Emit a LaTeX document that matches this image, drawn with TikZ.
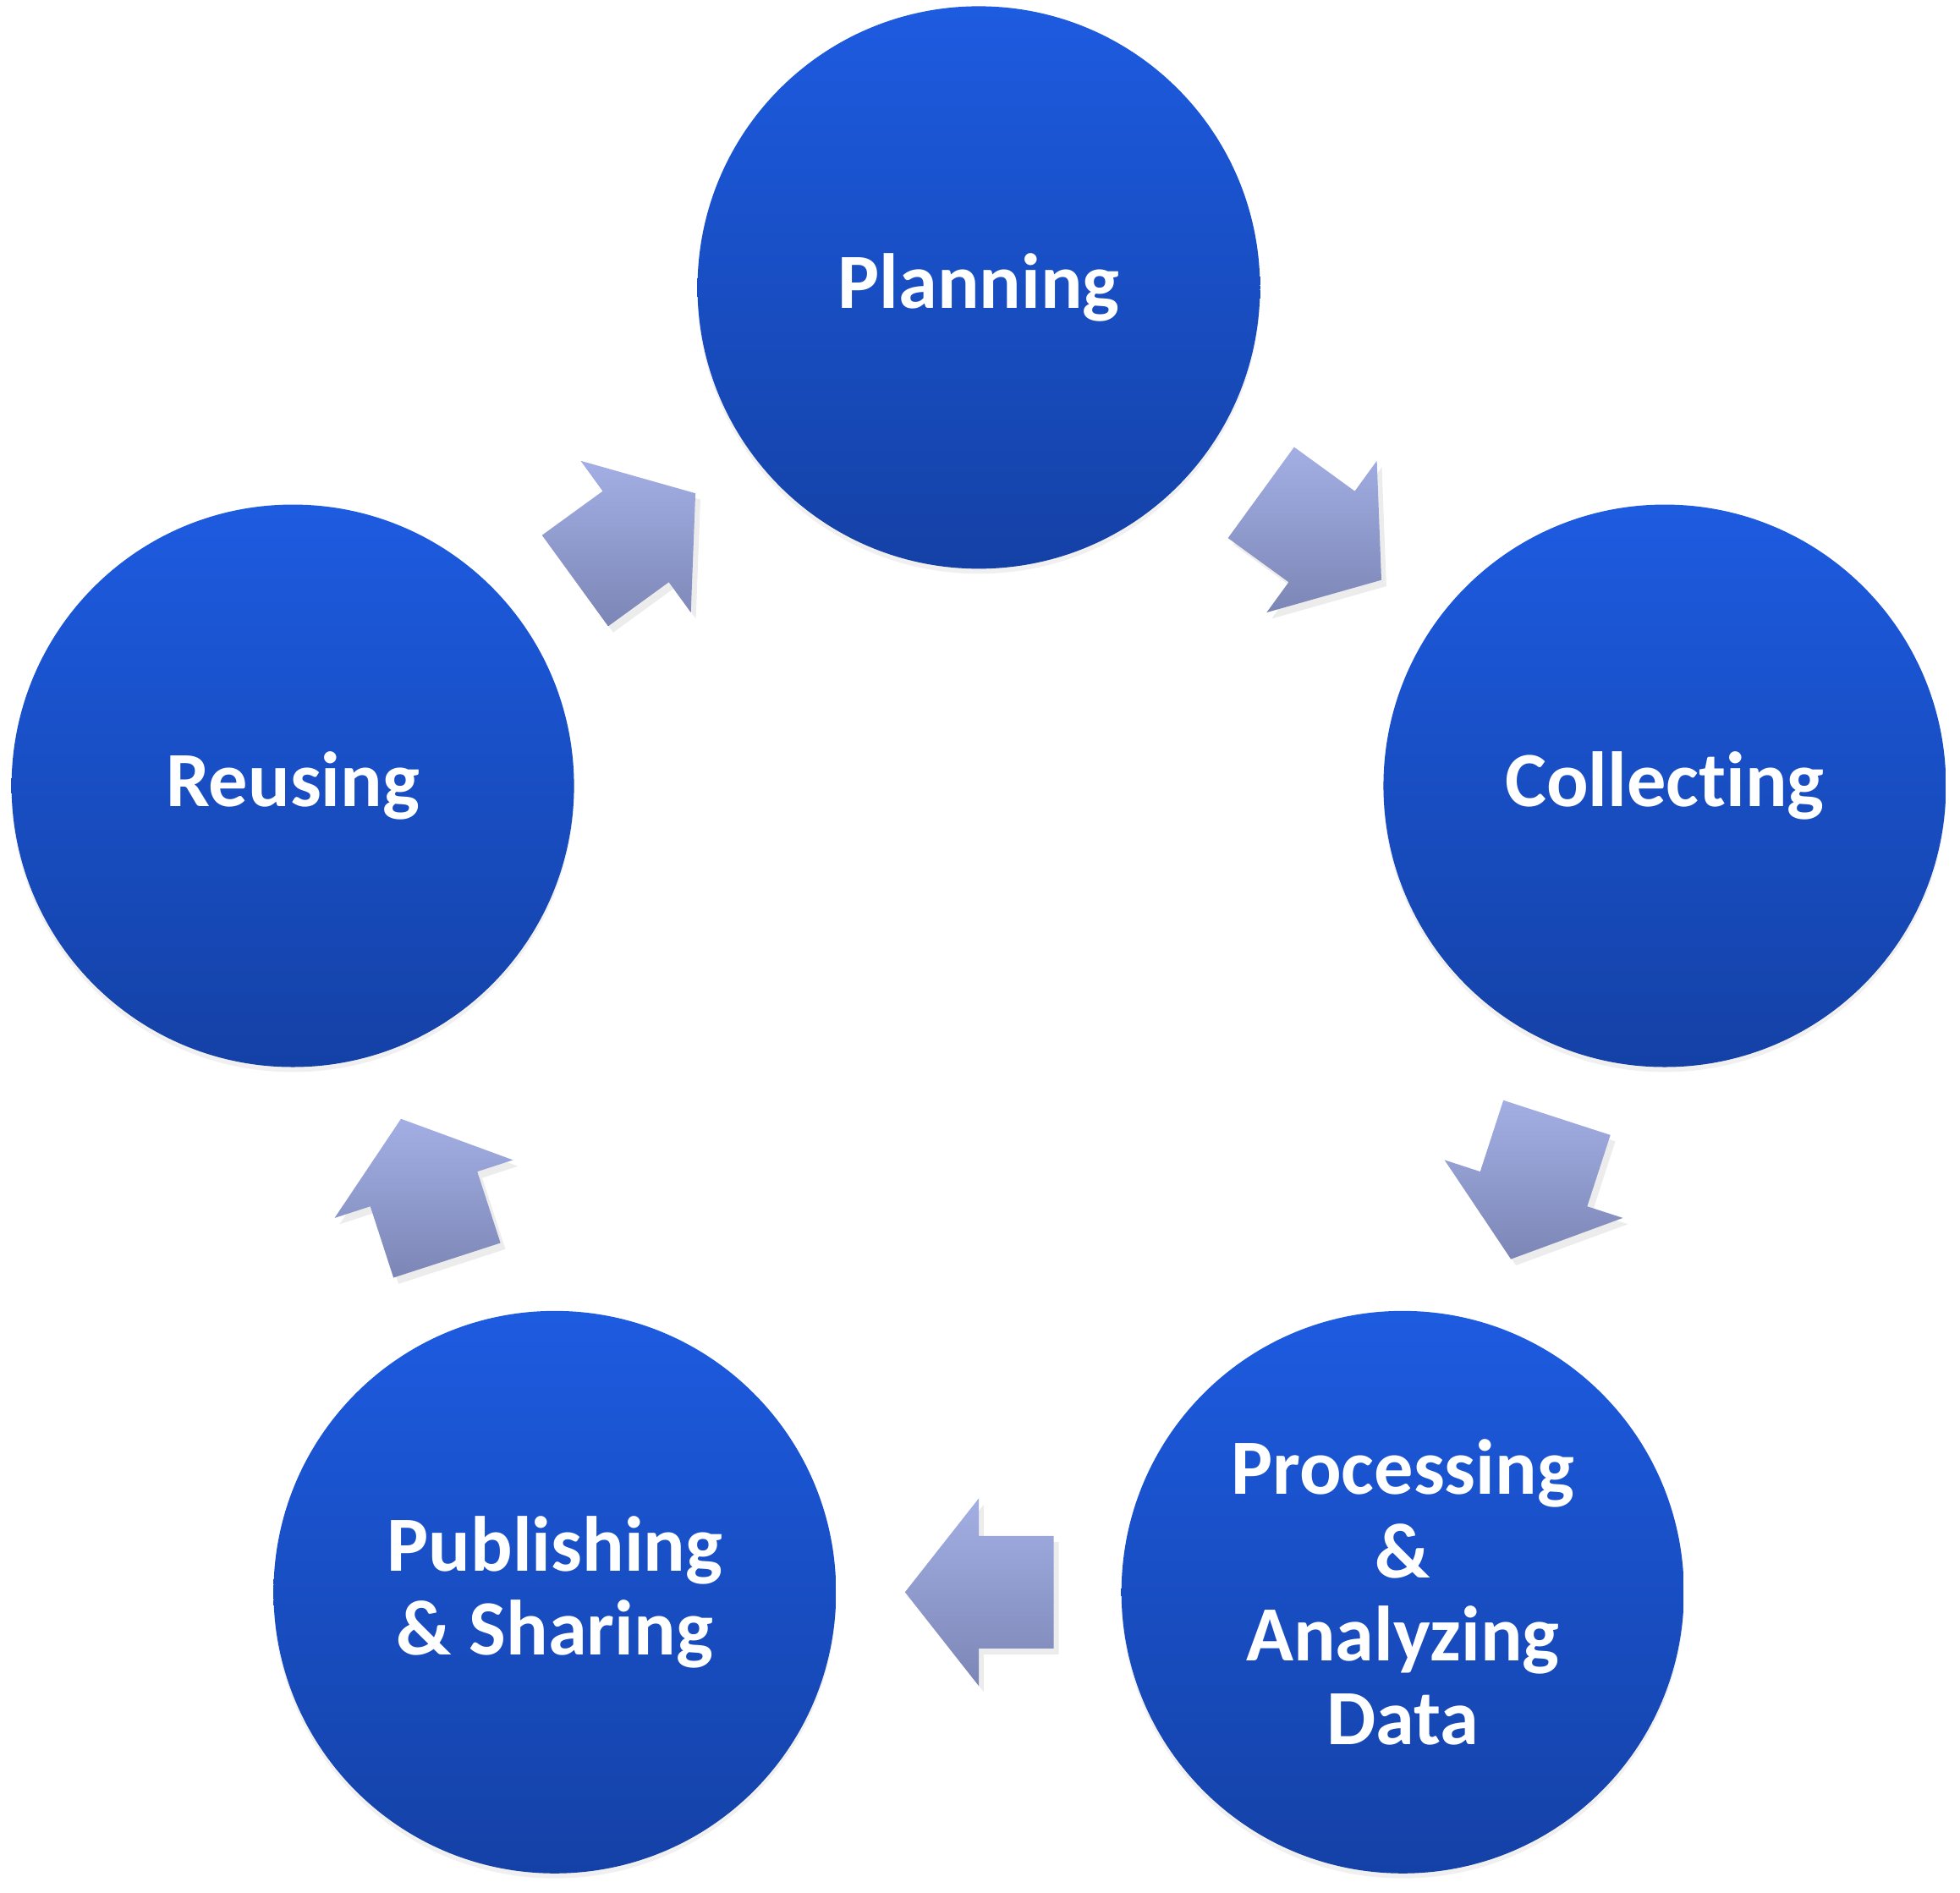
\documentclass[tikz,border=0pt]{standalone}
\usepackage{fontspec}
\setmainfont{Carlito}[Ligatures={NoCommon,NoRare}]
\usepackage{tikz}
\usetikzlibrary{calc,shadows}

\definecolor{stagetop}{HTML}{1D5BE0}
\definecolor{stagebot}{HTML}{1441A6}
\definecolor{flowtop}{HTML}{A3AFE4}
\definecolor{flowbot}{HTML}{7C86B6}

\begin{document}
\begin{tikzpicture}[stage/.style={circle, minimum size=4.5cm, inner sep=0pt, top color=stagetop, bottom color=stagebot, text=white, align=center, font=\fontsize{17.8}{19}\selectfont\bfseries, drop shadow={shadow xshift=0cm, shadow yshift=-0.04cm, opacity=0.12}},
	flow/.style={top color=flowtop, bottom color=flowbot, drop shadow={shadow xshift=0.04cm, shadow yshift=-0.05cm, opacity=0.15}}]
	\useasboundingbox (-7.83,-7.07) rectangle (7.85,8.07);

	\node[stage] (P) at (90:5.77)   {Planning};
	\node[stage] (C) at (18:5.77)   {Collecting};
	\node[stage] (A) at (-54:5.77)  {Processing\\\&\\Analyzing\\Data};
	\node[stage] (S) at (-126:5.77) {Publishing\\\& Sharing};
	\node[stage] (R) at (162:5.77)  {Reusing};

	% block arrows half way between the stages
	\foreach \src/\dst in {P/C, C/A, A/S, S/R, R/P}{
		\coordinate (m) at ($(\src)!0.5!(\dst)$);
		\coordinate (b) at ($(m)!0.60cm!(\src)$);
		\coordinate (tip) at ($(m)!0.59cm!(\dst)$);
		\path[flow] ($(b)!0.45cm!90:(m)$) -- ($(m)!0.45cm!90:(\dst)$) -- ($(m)!0.75cm!90:(\dst)$) -- (tip)
			-- ($(m)!0.75cm!-90:(\dst)$) -- ($(m)!0.45cm!-90:(\dst)$) -- ($(b)!0.45cm!-90:(m)$) -- cycle;
	}
\end{tikzpicture}
\end{document}
